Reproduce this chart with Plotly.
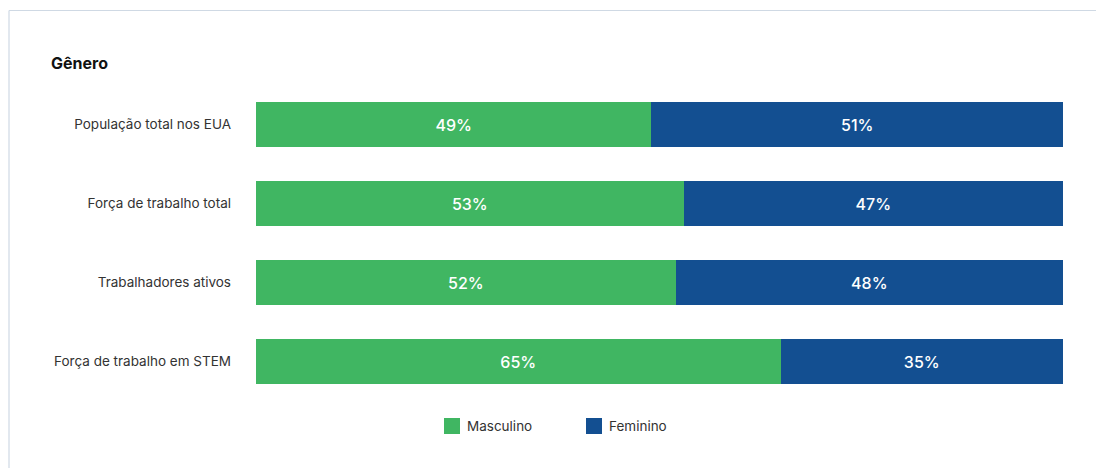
import plotly.graph_objects as go

# Data
categories = [
    "População total nos EUA",
    "Força de trabalho total",
    "Trabalhadores ativos",
    "Força de trabalho em STEM",
]
masculino = [49, 53, 52, 65]
feminino = [51, 47, 48, 35]

GREEN = "#40B662"
BLUE = "#134F91"
FONT = "Inter"

W, H = 1096, 468
ML, MR, MT, MB = 256, 33, 85, 67


def px_x(px):
    return (px - ML) / (W - ML - MR)


def px_y(py):
    return 1 - (py - MT) / (H - MT - MB)


fig = go.Figure()
for name, vals, color in [("Masculino", masculino, GREEN), ("Feminino", feminino, BLUE)]:
    fig.add_trace(go.Bar(
        y=categories,
        x=vals,
        name=name,
        orientation="h",
        marker=dict(color=color, line=dict(width=0)),
        width=0.58,
        text=[f"{v}%" for v in vals],
        textposition="inside",
        insidetextanchor="middle",
        textfont=dict(family=FONT, size=16, color="white", weight=500),
        hoverinfo="skip",
        showlegend=False,
    ))

shapes = [
    # card border (left and top edges)
    dict(type="line", xref="paper", yref="paper", x0=px_x(9), x1=px_x(W + 5),
         y0=px_y(10.5), y1=px_y(10.5), line=dict(color="#CFD9E4", width=1.2)),
    dict(type="line", xref="paper", yref="paper", x0=px_x(9), x1=px_x(9),
         y0=px_y(10.5), y1=px_y(H + 5), line=dict(color="#CFD9E4", width=1.2)),
]
annotations = [
    dict(text="<b>Gênero</b>", xref="paper", yref="paper", x=px_x(49), y=px_y(63),
         xanchor="left", yanchor="middle", showarrow=False,
         font=dict(family=FONT, size=16, color="#111111")),
]

# Legend
for name, color, sx in [("Masculino", GREEN, 444), ("Feminino", BLUE, 586)]:
    shapes.append(dict(type="rect", xref="paper", yref="paper",
                       x0=px_x(sx), x1=px_x(sx + 16), y0=px_y(418), y1=px_y(434),
                       fillcolor=color, line=dict(width=0)))
    annotations.append(dict(text=name, xref="paper", yref="paper",
                            x=px_x(sx + 21), y=px_y(426), xanchor="left", yanchor="middle",
                            showarrow=False, font=dict(family=FONT, size=13.5, color="#333333")))

fig.update_layout(
    width=W, height=H,
    barmode="stack",
    margin=dict(l=ML, r=MR, t=MT, b=MB),
    paper_bgcolor="white",
    plot_bgcolor="white",
    shapes=shapes,
    annotations=annotations,
    uniformtext=dict(mode=False),
    xaxis=dict(range=[0, 100], visible=False, fixedrange=True),
    yaxis=dict(
        autorange="reversed",
        showgrid=False, zeroline=False, showline=False,
        ticks="", ticklabelstandoff=24,
        tickfont=dict(family=FONT, size=13.5, color="#333333"),
        fixedrange=True,
    ),
)

fig.write_html("out.html", config={"displayModeBar": False})
